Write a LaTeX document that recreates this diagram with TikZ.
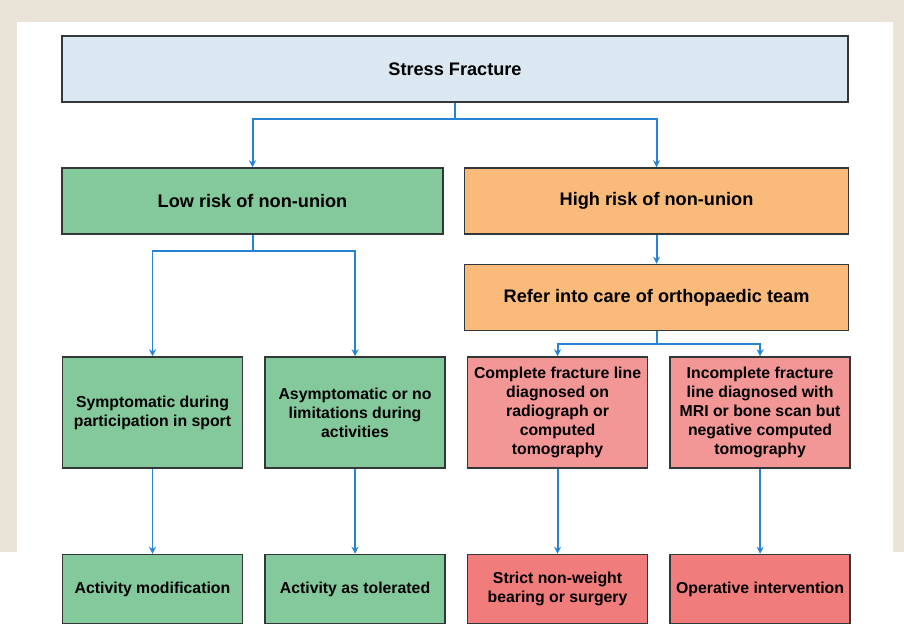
\documentclass[tikz,border=0pt]{standalone}
\usepackage{fontspec}
\setmainfont{Liberation Sans}
\definecolor{sfCream}{RGB}{234,228,216}
\definecolor{sfBlue}{RGB}{219,232,242}
\definecolor{sfGreen}{RGB}{132,201,156}
\definecolor{sfOrange}{RGB}{250,186,122}
\definecolor{sfPink}{RGB}{242,150,150}
\definecolor{sfRed}{RGB}{240,124,124}
\definecolor{sfEdge}{RGB}{50,56,56}
\definecolor{sfLine}{RGB}{38,131,214}
\usetikzlibrary{arrows.meta,positioning,calc}

\begin{document}
\begin{tikzpicture}[
  x=0.03cm, y=-0.03cm,
  box/.style={draw=sfEdge, line width=1.3pt, minimum height=1.98cm,
              font=\fontsize{15.5}{18}\selectfont\bfseries, align=center, inner sep=2pt},
  smallbox/.style={box, minimum width=5.4cm, minimum height=3.33cm,
              font=\fontsize{13.5}{16.2}\selectfont\bfseries},
  endbox/.style={smallbox, minimum height=2.07cm},
  link/.style={-{Stealth[length=6pt,width=6pt]}, line width=1.7pt, sfLine}
]
  % page frame
  \fill[sfCream] (0,0) rectangle (904,635);
  \fill[white] (17,22) rectangle (893,635);
  \fill[white] (0,552) rectangle (904,635);

  \node[box, fill=sfBlue, minimum width=23.58cm] (stress) at (455,69) {Stress Fracture};
  \node[box, fill=sfGreen, minimum width=11.43cm] (low) at (252.5,201) {Low risk of non-union};
  \node[box, fill=sfOrange, minimum width=11.52cm, right=0.6cm of low] (high) {High risk of non-union};
  \node[box, fill=sfOrange, minimum width=11.52cm, below=0.87cm of high] (refer) {Refer into care of orthopaedic team};

  \node[smallbox, fill=sfGreen] (sympt) at (152.5,412.5) {Symptomatic during\\participation in sport};
  \node[smallbox, fill=sfGreen, right=0.63cm of sympt] (asympt) {Asymptomatic or no\\limitations during\\activities};
  \node[smallbox, fill=sfPink, right=0.63cm of asympt] (complete) {Complete fracture line\\diagnosed on\\radiograph or\\computed\\tomography};
  \node[smallbox, fill=sfPink, right=0.63cm of complete] (incomplete) {Incomplete fracture\\line diagnosed with\\MRI or bone scan but\\negative computed\\tomography};

  \node[endbox, fill=sfGreen, below=2.55cm of sympt] (modif) {Activity modification};
  \node[endbox, fill=sfGreen, below=2.55cm of asympt] (tolerated) {Activity as tolerated};
  \node[endbox, fill=sfRed, below=2.55cm of complete] (nonweight) {Strict non-weight\\bearing or surgery};
  \node[endbox, fill=sfRed, below=2.55cm of incomplete] (operative) {Operative intervention};

  % connectors
  \coordinate (split) at ($(stress.south)+(0,16)$);
  \draw[link] (stress.south) -- (split) -| (low.north);
  \draw[link] (split) -| (high.north);
  \draw[link] (high) -- (refer);

  \coordinate (lowsplit) at ($(low.south)+(0,16)$);
  \draw[link] (low.south) -- (lowsplit) -| (sympt.north);
  \draw[link] (lowsplit) -| (asympt.north);

  \coordinate (refersplit) at ($(refer.south)+(0,13)$);
  \draw[link] (refer.south) -- (refersplit) -| (complete.north);
  \draw[link] (refersplit) -| (incomplete.north);

  \draw[link] (sympt) -- (modif);
  \draw[link] (asympt) -- (tolerated);
  \draw[link] (complete) -- (nonweight);
  \draw[link] (incomplete) -- (operative);
\end{tikzpicture}
\end{document}
